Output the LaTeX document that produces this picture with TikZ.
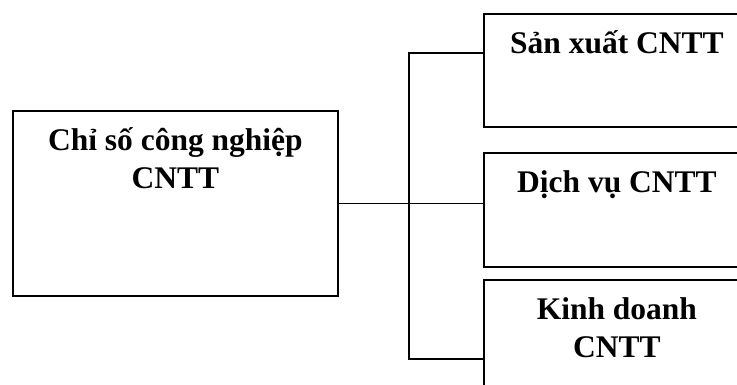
\documentclass[tikz,border=0pt]{standalone}
\usepackage{fontspec}
\setmainfont{Liberation Serif}
\begin{document}
\begin{tikzpicture}[x=1pt,y=1pt,
  box/.style={draw, line width=1.8pt, inner sep=0pt, anchor=north west, minimum width=266pt},
  lbl/.style={anchor=base, inner sep=0pt, font=\bfseries\fontsize{31.5}{38}\selectfont},
  conn/.style={line width=1.6pt}]
\useasboundingbox (0,0) rectangle (737,385);
\clip (0,0) rectangle (737,385);
\node[box, minimum width=325pt, minimum height=185pt] (L) at (12,275) {};
\node[box, minimum height=113pt] (B1) at (483,372) {};
\node[box, minimum height=114pt] (B2) at (483,233) {};
\node[box, minimum height=160pt] (B3) at (483,106) {};
\node[lbl] (tL) at ([yshift=-41pt]L.north) {\parbox[t]{320pt}{\centering Chỉ số công nghiệp\\CNTT}};
\node[lbl] (t1) at ([yshift=-41pt]B1.north) {Sản xuất CNTT};
\node[lbl] (t2) at ([yshift=-41pt]B2.north) {Dịch vụ CNTT};
\node[lbl] (t3) at ([yshift=-41pt]B3.north) {\parbox[t]{260pt}{\centering Kinh doanh\\CNTT}};
\coordinate (tp) at (409,331.7);
\coordinate (bt) at (409,25.7);
\draw[conn] (L.east) -- (B2.west |- L.east);
\draw[conn] (B1.west |- tp) -- (tp) -- (bt) -- (B3.west |- bt);
\end{tikzpicture}
\end{document}
